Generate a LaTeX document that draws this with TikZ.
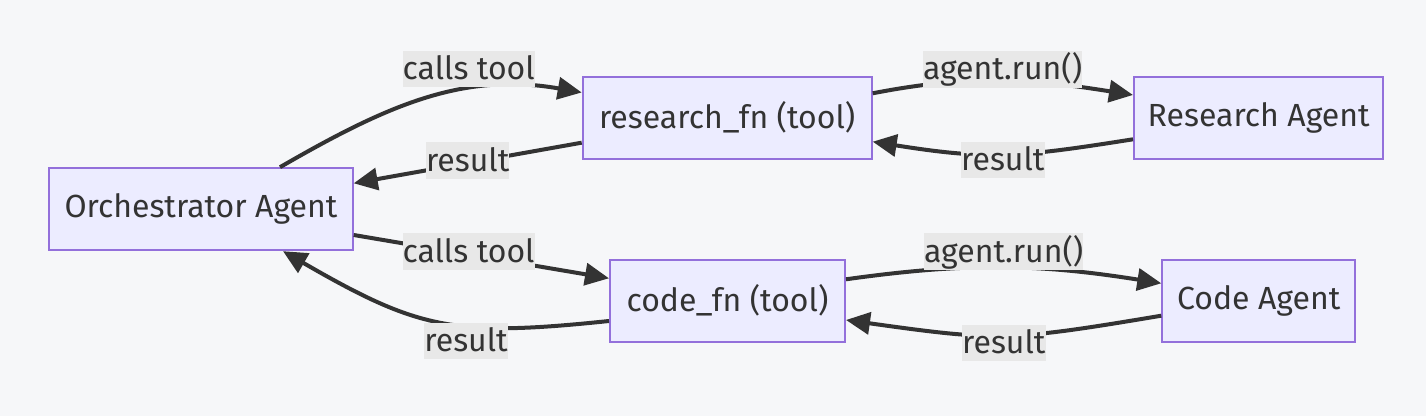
\documentclass[tikz,border=0pt]{standalone}
\usepackage{fontspec}
\setmainfont{Fira Sans}
\usepackage{xcolor}
\usepackage{tikz}
\usetikzlibrary{arrows.meta, positioning}

\definecolor{bgcol}{HTML}{F6F7F9}
\definecolor{nodefill}{HTML}{ECECFF}
\definecolor{nodeline}{HTML}{9370DB}
\definecolor{linecol}{HTML}{333333}
\definecolor{lblfill}{HTML}{E8E8E8}

\begin{document}
\begin{tikzpicture}[>={Triangle[length=12pt,width=11pt]}, on grid,
    proc/.style={draw=nodeline, line width=1pt, fill=nodefill, text=linecol,
      minimum height=41pt, inner sep=0pt, font=\fontsize{16pt}{19pt}\selectfont},
    lbl/.style={fill=lblfill, text=linecol, inner sep=0pt, text height=14.5pt,
      text depth=3.85pt, font=\fontsize{16pt}{19pt}\selectfont}]
   \fill[bgcol] (-100.5pt,-103.4pt) rectangle (612.5pt,104.6pt);

   \node[proc, minimum width=151.7pt] (orch) {Orchestrator Agent};
   \node[proc, minimum width=144.5pt] (rfn) [above right=45.7pt and 263.1pt of orch] {research\_fn (tool)};
   \node[proc, minimum width=124.7pt] (ragent) [right=265.75pt of rfn] {Research Agent};
   \node[proc, minimum width=117.5pt] (cfn) [below right=45.8pt and 263.25pt of orch] {code\_fn (tool)};
   \node[proc, minimum width=96.4pt] (cagent) [right=265.6pt of cfn] {Code Agent};

   \path[->, every edge/.style={draw=linecol, line width=2pt}]
    ([xshift=39.5pt]orch.north) edge [out=30, in=170] node[lbl, pos=0.65, yshift=10.4pt] {calls tool} ([yshift=12.65pt]rfn.west)
    ([yshift=-12.45pt]rfn.west) edge node[lbl, yshift=1.3pt] {result} ([yshift=12.95pt]orch.east)
    ([yshift=-12.9pt]orch.east) edge node[lbl, pos=0.45, yshift=1.35pt] {calls tool} ([yshift=11.25pt]cfn.west)
    ([yshift=-10.1pt]cfn.west) edge [out=186, in=-30, looseness=1.2] node[lbl, pos=0.4, yshift=-7.5pt] {result} ([xshift=41pt]orch.south)
    ([yshift=12.25pt]rfn.east) edge [out=11, in=171] node[lbl, yshift=5.85pt] {agent.run()} ([yshift=11.4pt]ragent.west)
    ([yshift=-10.75pt]ragent.west) edge [out=189, in=-9, looseness=1.15] node[lbl, yshift=-2.95pt] {result} ([yshift=-11.95pt]rfn.east)
    ([yshift=10.75pt]cfn.east) edge [out=8, in=171] node[lbl, yshift=7.95pt] {agent.run()} ([yshift=8.75pt]cagent.west)
    ([yshift=-7.45pt]cagent.west) edge [out=189.5, in=-8, looseness=1.25] node[lbl, yshift=-3.85pt] {result} ([yshift=-9.6pt]cfn.east);
\end{tikzpicture}
\end{document}
